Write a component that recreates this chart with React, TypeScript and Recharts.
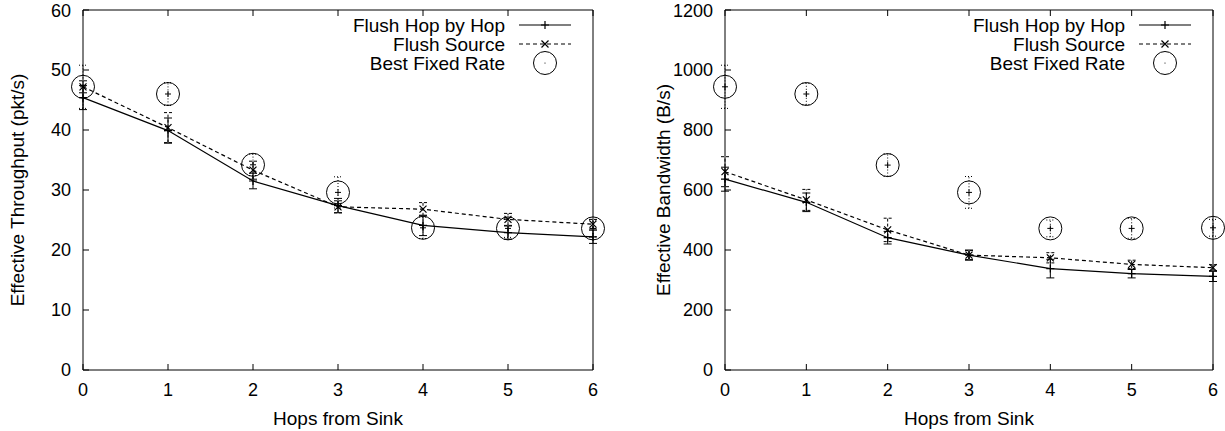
import React from 'react';
import { ComposedChart, Line, XAxis, YAxis, ErrorBar, Legend } from 'recharts';

const hops = [0, 1, 2, 3, 4, 5, 6];

// effective throughput (pkt/s) with error ranges
const throughputHopByHop = [45.4, 39.9, 31.5, 27.4, 24.1, 22.9, 22.2];
const throughputHopByHopErr = [2.0, 2.1, 1.3, 1.2, 1.7, 1.1, 1.1];
const throughputSource = [47.2, 40.4, 33.3, 27.2, 26.8, 25.1, 24.3];
const throughputSourceErr = [1.0, 2.5, 1.5, 1.0, 1.1, 1.0, 0.8];
const throughputBest = [47.2, 46.0, 34.2, 29.6, 23.7, 23.6, 23.6];
const throughputBestErr = [3.6, 1.9, 1.8, 2.6, 1.8, 1.5, 1.4];

// effective bandwidth (B/s) with error ranges
const bandwidthHopByHop = [636, 559, 441, 383, 338, 321, 312];
const bandwidthHopByHopErr = [40, 31, 21, 17, 31, 14, 17];
const bandwidthSource = [661, 567, 467, 383, 374, 352, 341];
const bandwidthSourceErr = [50, 35, 39, 15, 17, 14, 10];
const bandwidthBest = [944, 920, 683, 592, 472, 472, 474];
const bandwidthBestErr = [72, 36, 38, 53, 28, 33, 28];

const throughputTicks = [0, 10, 20, 30, 40, 50, 60];
const bandwidthTicks = [0, 200, 400, 600, 800, 1000, 1200];
const legendLabels = ['Flush Hop by Hop', 'Flush Source', 'Best Fixed Rate'];

const FONT = '"Liberation Sans", Arial, Helvetica, sans-serif';
const TICK = { fill: '#000', fontSize: 18, fontFamily: FONT };

const buildRows = (hop: number[], hopErr: number[], src: number[], srcErr: number[], best: number[], bestErr: number[]) =>
  hops.map((h, i) => ({
    hops: h,
    hop: hop[i],
    hopErr: hopErr[i],
    src: src[i],
    srcErr: srcErr[i],
    best: best[i],
    bestErr: bestErr[i],
  }));

const throughputRows = buildRows(throughputHopByHop, throughputHopByHopErr, throughputSource, throughputSourceErr, throughputBest, throughputBestErr);
const bandwidthRows = buildRows(bandwidthHopByHop, bandwidthHopByHopErr, bandwidthSource, bandwidthSourceErr, bandwidthBest, bandwidthBestErr);

// point symbols
const plusPath = (x: number, y: number, r: number) => `M${x - r},${y}h${2 * r}M${x},${y - r}v${2 * r}`;
const crossPath = (x: number, y: number, r: number) => `M${x - r},${y - r}L${x + r},${y + r}M${x - r},${y + r}L${x + r},${y - r}`;

const PlusDot = (props: any) => {
  const { cx, cy, index } = props;
  if (cx == null || cy == null) return <g key={index} />;
  return <path key={index} d={plusPath(cx, cy, 4)} stroke="#000" strokeWidth={1.2} fill="none" />;
};

const CrossDot = (props: any) => {
  const { cx, cy, index } = props;
  if (cx == null || cy == null) return <g key={index} />;
  return <path key={index} d={crossPath(cx, cy, 3.5)} stroke="#000" strokeWidth={1.2} fill="none" />;
};

const CircleDot = (props: any) => {
  const { cx, cy, index } = props;
  if (cx == null || cy == null) return <g key={index} />;
  return (
    <g key={index}>
      <circle cx={cx} cy={cy} r={11.5} stroke="#000" strokeWidth={1} fill="none" />
      <path d={plusPath(cx, cy, 3)} stroke="#000" strokeWidth={1} fill="none" />
    </g>
  );
};

// gnuplot-style key: right-aligned text, sample to its right
const KeyBox = () => {
  const textEnd = 212;
  const x1 = 226;
  const x2 = 278;
  const mid = (x1 + x2) / 2;
  const rows = [15, 34, 53];
  return (
    <svg width={300} height={70} style={{ overflow: 'visible', display: 'block' }}>
      {legendLabels.map((label, i) => (
        <text key={label} x={textEnd} y={rows[i] + 7} textAnchor="end" fontFamily={FONT} fontSize={19} fill="#000">
          {label}
        </text>
      ))}
      <line x1={x1} x2={x2} y1={rows[0]} y2={rows[0]} stroke="#000" strokeWidth={1.2} />
      <path d={plusPath(mid, rows[0], 4)} stroke="#000" strokeWidth={1.2} />
      <line x1={x1} x2={x2} y1={rows[1]} y2={rows[1]} stroke="#000" strokeWidth={1.2} strokeDasharray="4 3" />
      <path d={crossPath(mid, rows[1], 3.5)} stroke="#000" strokeWidth={1.2} />
      <circle cx={mid} cy={rows[2]} r={11.5} stroke="#000" strokeWidth={1} fill="none" />
      <circle cx={mid} cy={rows[2]} r={0.6} fill="#000" />
    </svg>
  );
};

interface PanelProps {
  rows: any[];
  width: number;
  yAxisWidth: number;
  marginRight: number;
  yMax: number;
  yTicks: number[];
  yLabel: string;
  yLabelOffset: number;
}

const Panel: React.FC<PanelProps> = ({ rows, width, yAxisWidth, marginRight, yMax, yTicks, yLabel, yLabelOffset }) => {
  const plotRight = width - marginRight - 1;
  return (
    <ComposedChart width={width} height={431} data={rows} margin={{ top: 9, right: marginRight, bottom: 0, left: 0 }}>
      <XAxis
        dataKey="hops"
        type="number"
        domain={[0, 6]}
        ticks={hops}
        height={61}
        tickSize={-6}
        tickMargin={19}
        tick={TICK}
        stroke="#000"
        axisLine={{ stroke: '#000' }}
        tickLine={{ stroke: '#000' }}
        label={{ value: 'Hops from Sink', position: 'insideBottom', offset: 6, fill: '#000', fontSize: 19, fontFamily: FONT }}
      />
      <XAxis
        xAxisId="top"
        orientation="top"
        dataKey="hops"
        type="number"
        domain={[0, 6]}
        ticks={hops}
        height={1}
        tickSize={-6}
        tickFormatter={() => ''}
        axisLine={{ stroke: '#000' }}
        tickLine={{ stroke: '#000' }}
      />
      <YAxis
        type="number"
        domain={[0, yMax]}
        ticks={yTicks}
        width={yAxisWidth}
        tickSize={-6}
        tickMargin={18}
        tick={TICK}
        axisLine={{ stroke: '#000' }}
        tickLine={{ stroke: '#000' }}
        label={{
          value: yLabel,
          angle: -90,
          position: 'insideLeft',
          offset: yLabelOffset,
          fill: '#000',
          fontSize: 19,
          fontFamily: FONT,
          style: { textAnchor: 'middle' },
        }}
      />
      <YAxis
        yAxisId="mirror"
        orientation="right"
        type="number"
        domain={[0, yMax]}
        ticks={yTicks}
        width={1}
        tickSize={-6}
        tickFormatter={() => ''}
        axisLine={{ stroke: '#000' }}
        tickLine={{ stroke: '#000' }}
      />
      <Legend
        layout="vertical"
        align="center"
        verticalAlign="middle"
        content={() => <KeyBox />}
        wrapperStyle={{ top: 10, left: plotRight - 300, width: 300, height: 70 }}
      />
      <Line dataKey="hop" stroke="#000" strokeWidth={1.2} dot={PlusDot} activeDot={false} isAnimationActive={false}>
        <ErrorBar dataKey="hopErr" direction="y" width={4} stroke="#000" strokeWidth={1} />
      </Line>
      <Line dataKey="src" stroke="#000" strokeWidth={1.2} strokeDasharray="4 3" dot={CrossDot} activeDot={false} isAnimationActive={false}>
        <ErrorBar dataKey="srcErr" direction="y" width={4} stroke="#000" strokeWidth={1} strokeDasharray="3 2" />
      </Line>
      <Line dataKey="best" stroke="none" dot={CircleDot} activeDot={false} isAnimationActive={false}>
        <ErrorBar dataKey="bestErr" direction="y" width={4} stroke="#000" strokeWidth={1} strokeDasharray="1 2" />
      </Line>
    </ComposedChart>
  );
};

export default function App() {
  return (
    <div style={{ position: 'absolute', left: 0, top: 0, width: 1225, height: 431, display: 'flex', background: '#fff' }}>
      <Panel
        rows={throughputRows}
        width={612}
        yAxisWidth={83}
        marginRight={18}
        yMax={60}
        yTicks={throughputTicks}
        yLabel="Effective Throughput (pkt/s)"
        yLabelOffset={17}
      />
      <Panel
        rows={bandwidthRows}
        width={613}
        yAxisWidth={113}
        marginRight={11}
        yMax={1200}
        yTicks={bandwidthTicks}
        yLabel="Effective Bandwidth (B/s)"
        yLabelOffset={51}
      />
    </div>
  );
}
